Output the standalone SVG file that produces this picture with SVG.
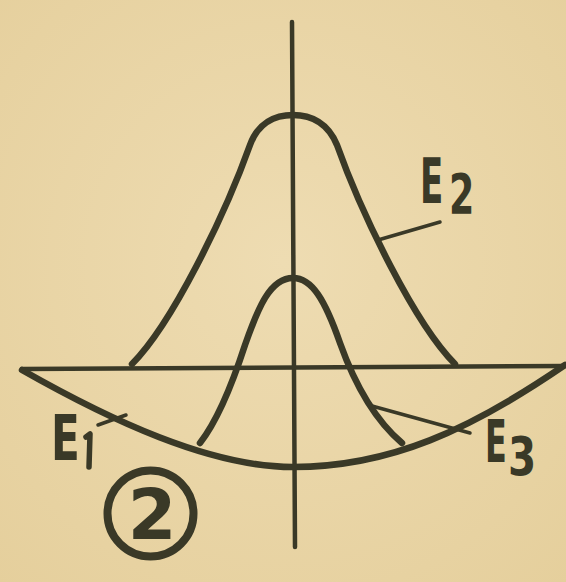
<svg xmlns="http://www.w3.org/2000/svg" width="566" height="582" viewBox="0 0 566 582">
  <style>
    .ln{fill:none;stroke:#3a3927;stroke-linecap:round;stroke-linejoin:round}
    .curve{stroke-width:6.5}
    .axis{stroke-width:4.5}
    .lead{stroke-width:3.5}
    .lbl{font-family:"DejaVu Sans","Liberation Sans",sans-serif;fill:#3a3927;font-weight:bold}
  </style>
  <defs>
    <radialGradient id="bg" cx="0.5" cy="0.45" r="0.75">
      <stop offset="0" stop-color="#eedcb2"/>
      <stop offset="1" stop-color="#e5cf9c"/>
    </radialGradient>
  </defs>
  <rect width="566" height="582" fill="url(#bg)"/>
  <g id="connectors">
    <path id="axis-v" class="ln axis" d="M292,22 L295,547"/>
    <path id="axis-h" class="ln axis" d="M22,369 L565,366"/>
    <path id="leader-E2" class="ln lead" d="M378,240 L440,222"/>
    <path id="leader-E1" class="ln lead" d="M98,425 L126,415"/>
    <path id="leader-E3" class="ln lead" d="M372,406 L470,433"/>
  </g>
  <g id="curve-E2">
    <path class="ln curve" d="M132,364 C172,324 225,215 250,145 C258,123 275,115 293,115 C311,115 328,123 337,145 C362,215 415,324 455,364"/>
  </g>
  <g id="curve-E3">
    <path class="ln curve" d="M200,443 C218,420 232,385 245,345 C258,308 270,278 293,278 C312,278 325,300 340,343 C355,385 375,420 402,443"/>
  </g>
  <g id="curve-E1">
    <path class="ln curve" d="M22,370 C110,420 210,467 293,467 C390,467 470,430 565,365"/>
  </g>
  <g id="label-E2">
    <text class="lbl" transform="translate(420,203) scale(0.55,1)" font-size="62">E</text>
    <text class="lbl" transform="translate(449,213) scale(0.65,1)" font-size="56">2</text>
  </g>
  <g id="label-E1">
    <text class="lbl" transform="translate(51,460) scale(0.68,1)" font-size="62">E</text>
    <path class="ln" stroke-width="5.5" d="M86,437 L90,434 L89,467"/>
  </g>
  <g id="label-E3">
    <text class="lbl" transform="translate(485,462) scale(0.55,1)" font-size="58">E</text>
    <text class="lbl" transform="translate(508,475) scale(0.75,1)" font-size="54">3</text>
  </g>
  <g id="badge-2">
    <circle class="ln" stroke-width="8" cx="150.5" cy="513.5" r="43"/>
    <text class="lbl" x="152" y="539" font-size="70" text-anchor="middle">2</text>
  </g>
</svg>
